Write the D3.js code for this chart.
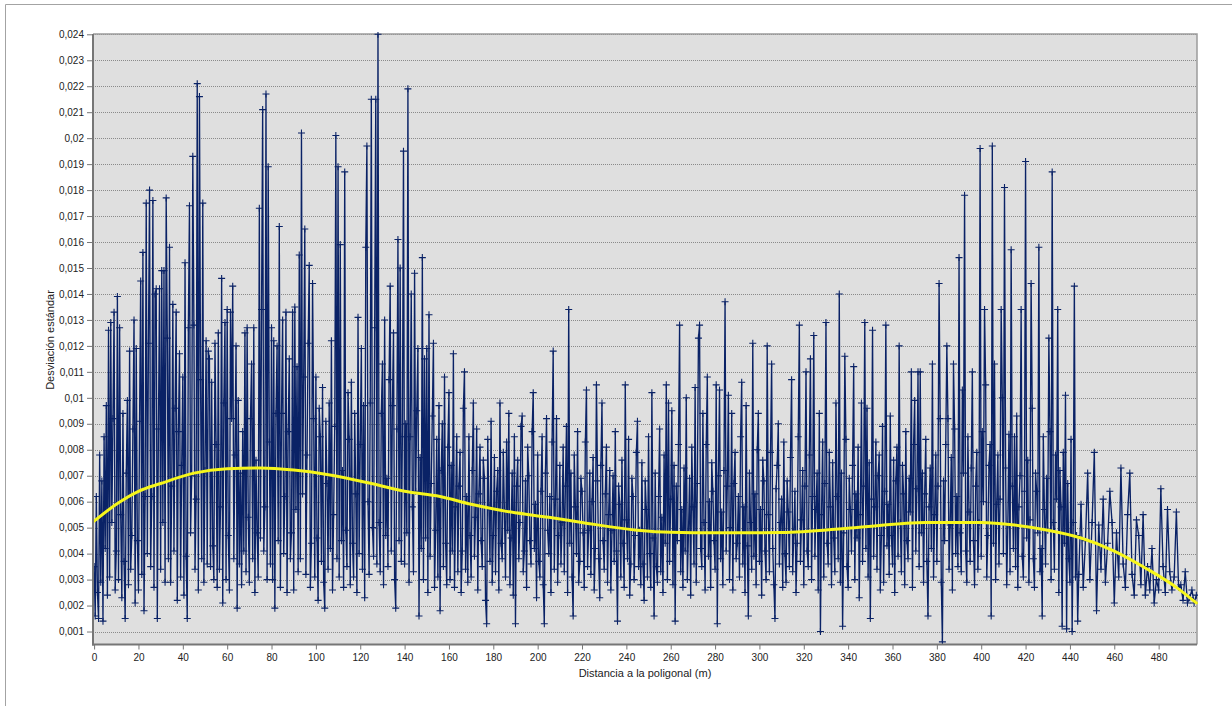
<!DOCTYPE html>
<html>
<head>
<meta charset="utf-8">
<script src="https://cdn.jsdelivr.net/npm/d3@7"></script>
<style>
  html, body { margin: 0; padding: 0; background: #fff; }
  svg { display: block; font-family: "Liberation Sans", Arial, sans-serif; }
</style>
</head>
<body>
<svg id="chart" width="1232" height="707"></svg>
<script>
// Standard deviation sampled every 0.5 m along the traverse, from 0 m to 443.5 m
const denseStart = 0;
const denseStep = 0.5;
const desviacionDensa = [
  .0035,.0016,.0062,.0025,.0015,.0078,.0029,.0068,.0014,.0085,.0042,.0097,.0024,.0126,.0031,.0129,.0052,.0092,.0133,.0026,
  .0041,.0139,.0030,.0127,.0055,.0023,.0094,.0037,.0015,.0071,.0099,.0028,.0118,.0034,.0047,.0088,.0130,.0021,.0119,.0045,
  .0026,.0091,.0145,.0032,.0156,.0018,.0062,.0175,.0040,.0121,.0180,.0035,.0062,.0176,.0027,.0140,.0142,.0015,.0088,.0142,
  .0034,.0149,.0052,.0149,.0029,.0177,.0123,.0038,.0158,.0029,.0066,.0136,.0041,.0096,.0133,.0022,.0087,.0117,.0031,.0074,
  .0108,.0024,.0152,.0039,.0015,.0127,.0174,.0048,.0070,.0193,.0128,.0034,.0061,.0221,.0026,.0216,.0107,.0038,.0175,.0029,
  .0072,.0122,.0036,.0118,.0115,.0035,.0106,.0043,.0030,.0121,.0082,.0027,.0125,.0034,.0058,.0146,.0021,.0098,.0129,.0030,
  .0134,.0047,.0026,.0133,.0092,.0143,.0038,.0078,.0120,.0019,.0099,.0036,.0071,.0028,.0087,.0041,.0125,.0033,.0127,.0054,
  .0029,.0092,.0113,.0038,.0127,.0025,.0076,.0048,.0031,.0173,.0046,.0134,.0211,.0041,.0058,.0217,.0030,.0189,.0083,.0036,
  .0127,.0030,.0122,.0019,.0094,.0120,.0045,.0166,.0027,.0094,.0130,.0040,.0062,.0133,.0025,.0087,.0115,.0038,.0048,.0133,
  .0026,.0135,.0057,.0112,.0033,.0155,.0038,.0202,.0063,.0108,.0165,.0032,.0078,.0121,.0151,.0027,.0044,.0144,.0092,.0031,
  .0108,.0046,.0022,.0096,.0085,.0037,.0104,.0029,.0019,.0091,.0067,.0034,.0098,.0042,.0122,.0026,.0055,.0089,.0201,.0038,
  .0189,.0031,.0159,.0045,.0072,.0027,.0187,.0049,.0035,.0102,.0084,.0028,.0106,.0044,.0031,.0094,.0063,.0025,.0131,.0040,
  .0082,.0119,.0034,.0097,.0023,.0158,.0197,.0060,.0032,.0098,.0215,.0050,.0039,.0127,.0215,.0036,.0240,.0052,.0033,.0094,
  .0113,.0028,.0130,.0047,.0069,.0035,.0107,.0143,.0041,.0097,.0125,.0030,.0019,.0088,.0161,.0045,.0150,.0037,.0085,.0195,
  .0036,.0090,.0048,.0219,.0029,.0085,.0140,.0058,.0033,.0148,.0064,.0095,.0119,.0016,.0077,.0042,.0154,.0030,.0115,.0046,
  .0119,.0025,.0132,.0039,.0067,.0093,.0121,.0027,.0049,.0084,.0031,.0097,.0018,.0072,.0090,.0035,.0108,.0044,.0028,.0081,
  .0102,.0030,.0074,.0041,.0117,.0027,.0058,.0085,.0033,.0066,.0079,.0025,.0041,.0096,.0110,.0034,.0062,.0029,.0085,.0047,
  .0031,.0072,.0098,.0039,.0054,.0088,.0026,.0063,.0081,.0045,.0035,.0076,.0069,.0022,.0013,.0084,.0058,.0037,.0091,.0029,
  .0047,.0077,.0033,.0064,.0072,.0026,.0098,.0044,.0038,.0079,.0057,.0031,.0083,.0049,.0094,.0028,.0046,.0071,.0024,.0085,
  .0013,.0066,.0076,.0038,.0052,.0089,.0093,.0033,.0041,.0068,.0027,.0081,.0070,.0045,.0036,.0087,.0102,.0042,.0059,.0023,
  .0078,.0037,.0031,.0064,.0085,.0028,.0013,.0071,.0092,.0049,.0040,.0062,.0025,.0083,.0118,.0034,.0061,.0092,.0029,.0047,
  .0074,.0036,.0052,.0081,.0033,.0066,.0089,.0025,.0134,.0044,.0071,.0031,.0016,.0078,.0058,.0040,.0087,.0029,.0037,.0069,
  .0064,.0048,.0027,.0083,.0103,.0035,.0049,.0071,.0032,.0060,.0077,.0026,.0042,.0105,.0068,.0038,.0023,.0074,.0098,.0045,
  .0034,.0063,.0081,.0029,.0055,.0072,.0026,.0049,.0070,.0037,.0087,.0041,.0014,.0066,.0059,.0031,.0076,.0044,.0027,.0105,
  .0053,.0038,.0084,.0024,.0036,.0069,.0062,.0030,.0047,.0079,.0091,.0035,.0049,.0028,.0075,.0036,.0022,.0068,.0057,.0031,
  .0085,.0040,.0027,.0102,.0046,.0016,.0071,.0035,.0029,.0062,.0088,.0033,.0054,.0025,.0078,.0044,.0105,.0030,.0098,.0037,
  .0061,.0095,.0028,.0074,.0014,.0066,.0045,.0082,.0128,.0033,.0057,.0027,.0073,.0041,.0100,.0030,.0048,.0069,.0024,.0081,
  .0058,.0036,.0104,.0029,.0067,.0123,.0128,.0042,.0035,.0094,.0052,.0026,.0082,.0108,.0039,.0060,.0027,.0075,.0064,.0045,
  .0034,.0105,.0013,.0070,.0103,.0038,.0056,.0028,.0072,.0137,.0041,.0066,.0101,.0030,.0050,.0094,.0026,.0067,.0079,.0038,
  .0044,.0062,.0031,.0085,.0106,.0036,.0058,.0025,.0097,.0043,.0016,.0071,.0052,.0034,.0121,.0039,.0063,.0028,.0080,.0094,
  .0037,.0057,.0024,.0076,.0068,.0041,.0030,.0120,.0055,.0033,.0079,.0113,.0042,.0028,.0015,.0065,.0074,.0090,.0036,.0052,
  .0061,.0027,.0083,.0040,.0029,.0068,.0056,.0035,.0077,.0107,.0033,.0048,.0064,.0025,.0044,.0085,.0128,.0037,.0053,.0072,
  .0028,.0066,.0110,.0041,.0035,.0078,.0115,.0030,.0062,.0124,.0039,.0057,.0071,.0026,.0094,.0010,.0055,.0083,.0031,.0067,
  .0129,.0044,.0036,.0079,.0058,.0028,.0075,.0046,.0033,.0098,.0062,.0038,.0140,.0029,.0071,.0012,.0048,.0116,.0084,.0035,
  .0027,.0069,.0057,.0041,.0074,.0112,.0030,.0063,.0046,.0081,.0023,.0055,.0098,.0037,.0066,.0129,.0042,.0096,.0031,.0075,
  .0015,.0061,.0126,.0039,.0058,.0083,.0034,.0070,.0078,.0026,.0047,.0089,.0029,.0064,.0128,.0043,.0059,.0032,.0093,.0047,
  .0036,.0076,.0025,.0068,.0081,.0039,.0120,.0052,.0033,.0074,.0063,.0028,.0087,.0045,.0038,.0069,.0056,.0110,.0027,.0082,
  .0099,.0041,.0065,.0110,.0035,.0110,.0048,.0071,.0029,.0063,.0084,.0037,.0016,.0058,.0073,.0042,.0113,.0031,.0055,.0078,
  .0037,.0066,.0144,.0092,.0029,.0006,.0068,.0045,.0082,.0120,.0092,.0034,.0051,.0077,.0026,.0113,.0088,.0040,.0062,.0035,
  .0154,.0048,.0033,.0103,.0071,.0178,.0041,.0029,.0085,.0056,.0037,.0073,.0110,.0045,.0028,.0066,.0079,.0034,.0052,.0196,
  .0039,.0087,.0060,.0134,.0105,.0031,.0047,.0074,.0082,.0016,.0197,.0044,.0113,.0030,.0059,.0078,.0036,.0061,.0134,.0100,
  .0040,.0181,.0073,.0028,.0051,.0086,.0033,.0157,.0066,.0042,.0085,.0035,.0093,.0027,.0058,.0070,.0134,.0039,.0031,.0064,
  .0191,.0046,.0076,.0029,.0053,.0144,.0096,.0038,.0027,.0071,.0064,.0048,.0158,.0033,.0042,.0016,.0085,.0057,.0036,.0069,
  .0049,.0123,.0087,.0030,.0187,.0052,.0034,.0078,.0061,.0134,.0025,.0072,.0058,.0012,.0079,.0044,.0101,.0011,.0067,.0038,
  .0029,.0084,.0010,.0052,.0143,.0031,.0047,.0014
];

// Sparser end of the traverse, one sample per metre from 444 m to 497 m
const tailStart = 444;
const tailStep = 1;
const desviacionFinal = [
  .0032,.0059,.0027,.0045,.0071,.0030,.0052,.0079,.0018,.0051,
  .0034,.0061,.0029,.0044,.0064,.0052,.0021,.0048,.0031,.0073,
  .0036,.0027,.0055,.0071,.0032,.0024,.0053,.0047,.0028,.0055,
  .0024,.0035,.0026,.0042,.0021,.0030,.0026,.0065,.0035,.0025,
  .0057,.0033,.0026,.0031,.0056,.0027,.0028,.0022,.0033,.0021,
  .0023,.0026,.0021,.0024
];

// Polynomial trend line, given as knots along the distance axis
const tendenciaX = [0, 10, 20, 30, 45, 60, 75, 90, 105, 125, 140, 156, 170, 188, 205, 220, 245, 260, 280, 310, 343, 375, 400, 415, 430, 445, 460, 475, 488, 497];
const tendenciaY = [0.00525, 0.0059, 0.0064, 0.0067, 0.0071, 0.00727, 0.0073, 0.00722, 0.00705, 0.0067, 0.0064, 0.0062, 0.0059, 0.0056, 0.0054, 0.0052, 0.0049, 0.00482, 0.0048, 0.00481, 0.0050, 0.0052, 0.0052, 0.0051, 0.0049, 0.0046, 0.0041, 0.0034, 0.0027, 0.0021];

// Axis ticks
const xTicks = [0, 20, 40, 60, 80, 100, 120, 140, 160, 180, 200, 220, 240, 260, 280, 300, 320, 340, 360, 380, 400, 420, 440, 460, 480];
const yTicks = [0.001, 0.002, 0.003, 0.004, 0.005, 0.006, 0.007, 0.008, 0.009, 0.010, 0.011, 0.012,
                0.013, 0.014, 0.015, 0.016, 0.017, 0.018, 0.019, 0.020, 0.021, 0.022, 0.023, 0.024];

const xTitle = "Distancia a la poligonal (m)";
const yTitle = "Desviación estándar";

// ---------------------------------------------------------------------------
const svg = d3.select("#chart");
const plot = { left: 93, right: 1197, top: 34, bottom: 644.5 };

const x = d3.scaleLinear().domain([-0.5, 497.3]).range([plot.left, plot.right]);
const y = d3.scaleLinear().domain([0.0005, 0.024]).range([plot.bottom, 34.3]);

const es = d3.formatLocale({ decimal: ",", thousands: ".", grouping: [3], currency: ["", " €"] });
const fmtY = es.format(".3~f");

const puntos = desviacionDensa.map((v, i) => ({ d: denseStart + i * denseStep, v }))
  .concat(desviacionFinal.map((v, i) => ({ d: tailStart + i * tailStep, v })));
const tendencia = tendenciaX.map((d, i) => ({ d, v: tendenciaY[i] }));

const serieColor = "#0a2266";

// Chart area frame (top and left edges)
svg.append("path")
  .attr("d", "M5.5,706V4.5H1232")
  .attr("fill", "none")
  .attr("stroke", "#a3a3a3")
  .attr("stroke-width", 1);

// Plot area background
svg.append("rect")
  .attr("x", plot.left).attr("y", plot.top)
  .attr("width", plot.right - plot.left).attr("height", plot.bottom - plot.top)
  .attr("fill", "#dfdfdf");

// Dotted horizontal gridlines
svg.append("g")
  .selectAll("line")
  .data(yTicks)
  .join("line")
  .attr("x1", plot.left).attr("x2", plot.right)
  .attr("y1", d => Math.round(y(d)) + 0.5).attr("y2", d => Math.round(y(d)) + 0.5)
  .attr("stroke", "#8a8a8a")
  .attr("stroke-width", 1)
  .attr("stroke-dasharray", "1,1");

// Top and right border of the plot area
svg.append("path")
  .attr("d", `M${plot.left},${plot.top}H${plot.right}V${plot.bottom}`)
  .attr("fill", "none")
  .attr("stroke", "#9c9c9c")
  .attr("stroke-width", 1.5);

svg.append("defs").append("clipPath").attr("id", "clip")
  .append("rect")
  .attr("x", plot.left).attr("y", plot.top - 2)
  .attr("width", plot.right - plot.left + 1).attr("height", plot.bottom - plot.top + 2);

const layer = svg.append("g").attr("clip-path", "url(#clip)");

// Data line
const linea = d3.line().x(p => x(p.d)).y(p => y(p.v));
layer.append("path")
  .datum(puntos)
  .attr("d", linea)
  .attr("fill", "none")
  .attr("stroke", serieColor)
  .attr("stroke-width", 1.35)
  .attr("stroke-linejoin", "bevel");

// Cross markers at every sample
layer.append("g")
  .selectAll("path")
  .data(puntos)
  .join("path")
  .attr("transform", p => `translate(${x(p.d)},${y(p.v)})`)
  .attr("d", "M-3.5,0H3.5M0,-3.5V3.5")
  .attr("stroke", serieColor)
  .attr("stroke-width", 1.1)
  .attr("fill", "none");

// Trend line
layer.append("path")
  .datum(tendencia)
  .attr("d", d3.line().x(p => x(p.d)).y(p => y(p.v)).curve(d3.curveMonotoneX))
  .attr("fill", "none")
  .attr("stroke", "#f6f61a")
  .attr("stroke-width", 3)
  .attr("stroke-linecap", "round");

// Axes
const axisColor = "#767676";
const yAxis = svg.append("g")
  .attr("transform", `translate(${plot.left},0)`)
  .call(d3.axisLeft(y).tickValues(yTicks).tickFormat(fmtY).tickSize(6).tickSizeOuter(0).tickPadding(3));
const xAxis = svg.append("g")
  .attr("transform", `translate(0,${plot.bottom})`)
  .call(d3.axisBottom(x).tickValues(xTicks).tickFormat(d3.format("d")).tickSize(5).tickSizeOuter(0).tickPadding(4));

[yAxis, xAxis].forEach(g => {
  g.select(".domain").attr("stroke", axisColor).attr("stroke-width", 2);
  g.selectAll(".tick line").attr("stroke", axisColor).attr("stroke-width", 1);
  g.selectAll(".tick text")
    .attr("fill", "#222")
    .style("font-size", "10px")
    .style("font-family", "'Liberation Sans', Arial, sans-serif");
});
yAxis.select(".domain").attr("d", `M0,${plot.bottom + 1}V${plot.top}`);
xAxis.select(".domain").attr("d", `M${plot.left - 1},0H${plot.right}`);

// Axis titles
svg.append("text")
  .attr("x", 645).attr("y", 677)
  .attr("text-anchor", "middle")
  .attr("fill", "#222")
  .style("font-size", "11px")
  .text(xTitle);

svg.append("text")
  .attr("transform", "translate(54,340) rotate(-90)")
  .attr("text-anchor", "middle")
  .attr("fill", "#222")
  .style("font-size", "11px")
  .text(yTitle);
</script>
</body>
</html>
